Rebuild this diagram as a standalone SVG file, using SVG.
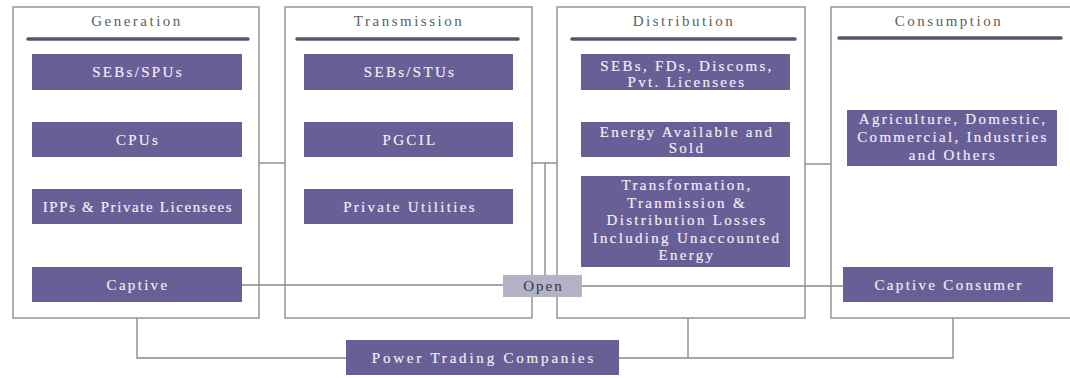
<svg xmlns="http://www.w3.org/2000/svg" width="1070" height="378" viewBox="0 0 1070 378">
  <style>
    .panel { fill: #ffffff; stroke: #8e8e8e; stroke-width: 1.4; }
    .bar { stroke: #57556c; stroke-width: 3.5; stroke-linecap: round; }
    .title { font-family: "Liberation Serif", "Times New Roman", serif; font-size: 15px; letter-spacing: 2.5px; fill: #5e5e5e; text-anchor: middle; }
    .box { fill: #685f97; }
    .btxt { font-family: "Liberation Serif", "Times New Roman", serif; font-size: 15px; letter-spacing: 2.3px; fill: #f2f0f7; text-anchor: middle; stroke: #f2f0f7; stroke-width: 0.15; }
    .open { fill: #b4b2c5; }
    .otxt { font-family: "Liberation Serif", "Times New Roman", serif; font-size: 15px; letter-spacing: 2px; fill: #35344a; text-anchor: middle; }
    .conn { fill: none; stroke: #8a8a8a; stroke-width: 1.4; }
  </style>
  <rect width="1070" height="378" fill="#ffffff"/>

  <!-- stage panels -->
  <g id="generation">
    <rect class="panel" x="13" y="7" width="246" height="311"/>
    <text class="title" x="137" y="26">Generation</text>
    <line class="bar" x1="28" y1="39" x2="248" y2="39"/>
  </g>
  <g id="transmission">
    <rect class="panel" x="285" y="7" width="247" height="311"/>
    <text class="title" x="409" y="26">Transmission</text>
    <line class="bar" x1="297" y1="39" x2="518" y2="39"/>
  </g>
  <g id="distribution">
    <rect class="panel" x="557" y="7" width="248" height="311"/>
    <text class="title" x="684" y="26">Distribution</text>
    <line class="bar" x1="572" y1="39" x2="795" y2="39"/>
  </g>
  <g id="consumption">
    <rect class="panel" x="831" y="7" width="250" height="311"/>
    <text class="title" x="949" y="26">Consumption</text>
    <line class="bar" x1="839" y1="38" x2="1061" y2="38"/>
  </g>

  <!-- connectors -->
  <g id="connectors">
    <path class="conn" d="M259,163 H285"/>
    <path class="conn" d="M532,163 H557"/>
    <path class="conn" d="M545,163 V275"/>
    <path class="conn" d="M805,164 H831"/>
    <path class="conn" d="M242,285 H503"/>
    <path class="conn" d="M582,286 H843"/>
    <path class="conn" d="M137,318 V358 H346"/>
    <path class="conn" d="M619,358 H953 V318"/>
    <path class="conn" d="M688,358 V318"/>
  </g>

  <!-- generation entities -->
  <g id="gen-sebs-spus">
    <rect class="box" x="32" y="54" width="210" height="36"/>
    <text class="btxt" x="138" y="77">SEBs/SPUs</text>
  </g>
  <g id="gen-cpus">
    <rect class="box" x="32" y="122" width="210" height="35"/>
    <text class="btxt" x="138" y="145">CPUs</text>
  </g>
  <g id="gen-ipps">
    <rect class="box" x="32" y="189" width="210" height="35"/>
    <text class="btxt" x="138" y="212" style="letter-spacing:1.6px">IPPs &amp; Private Licensees</text>
  </g>
  <g id="gen-captive">
    <rect class="box" x="32" y="267" width="210" height="35"/>
    <text class="btxt" x="138" y="290">Captive</text>
  </g>

  <!-- transmission entities -->
  <g id="trans-sebs-stus">
    <rect class="box" x="304" y="54" width="209" height="36"/>
    <text class="btxt" x="410" y="77">SEBs/STUs</text>
  </g>
  <g id="trans-pgcil">
    <rect class="box" x="304" y="122" width="209" height="35"/>
    <text class="btxt" x="410" y="145">PGCIL</text>
  </g>
  <g id="trans-private">
    <rect class="box" x="304" y="189" width="209" height="35"/>
    <text class="btxt" x="410" y="212">Private Utilities</text>
  </g>

  <!-- distribution entities -->
  <g id="dist-licensees">
    <rect class="box" x="581" y="54" width="209" height="36"/>
    <text class="btxt" x="687" y="71">SEBs, FDs, Discoms,</text>
    <text class="btxt" x="687" y="87">Pvt. Licensees</text>
  </g>
  <g id="dist-energy">
    <rect class="box" x="581" y="122" width="209" height="35"/>
    <text class="btxt" x="687" y="137">Energy Available and</text>
    <text class="btxt" x="687" y="153">Sold</text>
  </g>
  <g id="dist-losses">
    <rect class="box" x="581" y="176" width="209" height="91"/>
    <text class="btxt" x="687" y="190">Transformation,</text>
    <text class="btxt" x="687" y="207.5">Tranmission &amp;</text>
    <text class="btxt" x="687" y="225">Distribution Losses</text>
    <text class="btxt" x="687" y="242.5">Including Unaccounted</text>
    <text class="btxt" x="687" y="260">Energy</text>
  </g>

  <!-- consumption entities -->
  <g id="cons-categories">
    <rect class="box" x="847" y="110" width="210" height="56"/>
    <text class="btxt" x="953" y="124">Agriculture, Domestic,</text>
    <text class="btxt" x="953" y="142">Commercial, Industries</text>
    <text class="btxt" x="953" y="160">and Others</text>
  </g>
  <g id="cons-captive">
    <rect class="box" x="843" y="267" width="210" height="35"/>
    <text class="btxt" x="949" y="290">Captive Consumer</text>
  </g>

  <!-- open access -->
  <g id="open-access">
    <rect class="open" x="503" y="275" width="79" height="22"/>
    <text class="otxt" x="543.5" y="291">Open</text>
  </g>

  <!-- traders -->
  <g id="power-trading">
    <rect class="box" x="346" y="340" width="273" height="35"/>
    <text class="btxt" x="484" y="363" style="letter-spacing:2.8px">Power Trading Companies</text>
  </g>
</svg>
